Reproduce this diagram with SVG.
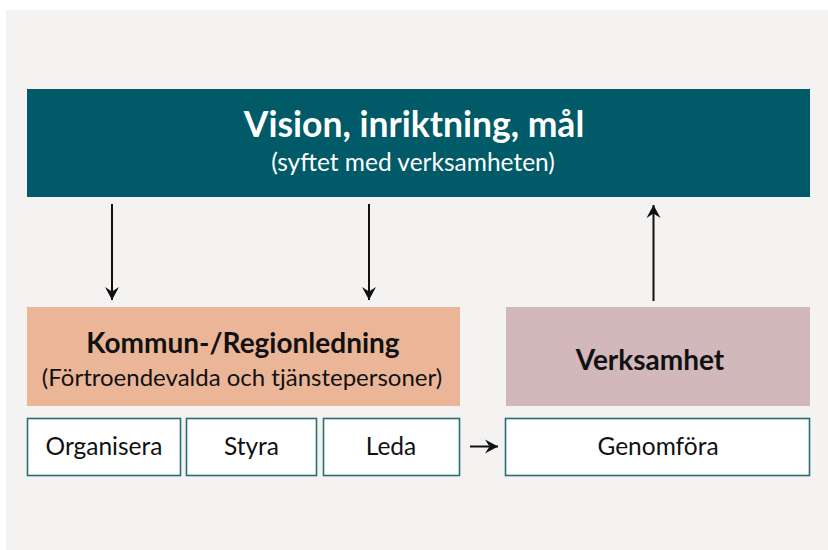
<svg xmlns="http://www.w3.org/2000/svg" width="828" height="550" viewBox="0 0 828 550">
<style>
  text { font-family: Lato, "Open Sans", "Liberation Sans", sans-serif; text-anchor: middle; }
  .title { font-size: 35.5px; font-weight: bold; fill: #ffffff; }
  .sub { font-size: 24.5px; fill: #ffffff; }
  .h { font-size: 28px; font-weight: bold; fill: #111111; }
  .hs { font-size: 24px; fill: #111111; }
  .act { font-size: 24.5px; fill: #111111; }
  .box { fill: #ffffff; stroke: #2a6d77; stroke-width: 1.6; }
  .conn line { stroke: #111111; stroke-width: 2; }
</style>
<defs>
  <marker id="ah" viewBox="0 0 15 15" refX="14" refY="7.5" markerWidth="15" markerHeight="15" markerUnits="userSpaceOnUse" orient="auto">
    <path d="M14,7.5 L1,0.5 L5.5,7.5 L1,14.5 Z" fill="#111111"/>
  </marker>
</defs>
<rect x="0" y="0" width="828" height="550" fill="#ffffff"/>
<rect x="6" y="10" width="822" height="540" fill="#f4f3f1"/>

<g id="vision">
  <rect x="27" y="89" width="783" height="108" fill="#005a67"/>
  <text class="title" x="414" y="137">Vision, inriktning, mål</text>
  <text class="sub" x="413" y="171">(syftet med verksamheten)</text>
</g>

<g id="ledning">
  <rect x="27" y="307" width="433" height="99" fill="#ebb698"/>
  <text class="h" x="243" y="353">Kommun-/Regionledning</text>
  <text class="hs" x="242" y="386">(Förtroendevalda och tjänstepersoner)</text>
</g>

<g id="verksamhet">
  <rect x="506" y="307" width="304" height="99" fill="#d2b7bb"/>
  <text class="h" x="650" y="370">Verksamhet</text>
</g>

<g id="organisera">
  <rect class="box" x="27.5" y="418.5" width="153" height="57"/>
  <text class="act" x="104" y="455">Organisera</text>
</g>
<g id="styra">
  <rect class="box" x="186.5" y="418.5" width="130" height="57"/>
  <text class="act" x="251.5" y="455">Styra</text>
</g>
<g id="leda">
  <rect class="box" x="323.5" y="418.5" width="136" height="57"/>
  <text class="act" x="391" y="455">Leda</text>
</g>
<g id="genomfora">
  <rect class="box" x="505.5" y="418.5" width="304" height="57"/>
  <text class="act" x="658" y="455">Genomföra</text>
</g>

<g id="connectors" class="conn">
  <line x1="112" y1="204" x2="112" y2="300" marker-end="url(#ah)"/>
  <line x1="369" y1="204" x2="369" y2="300" marker-end="url(#ah)"/>
  <line x1="653.5" y1="301" x2="653.5" y2="205" marker-end="url(#ah)"/>
  <line x1="470" y1="446.5" x2="498" y2="446.5" marker-end="url(#ah)"/>
</g>
</svg>
